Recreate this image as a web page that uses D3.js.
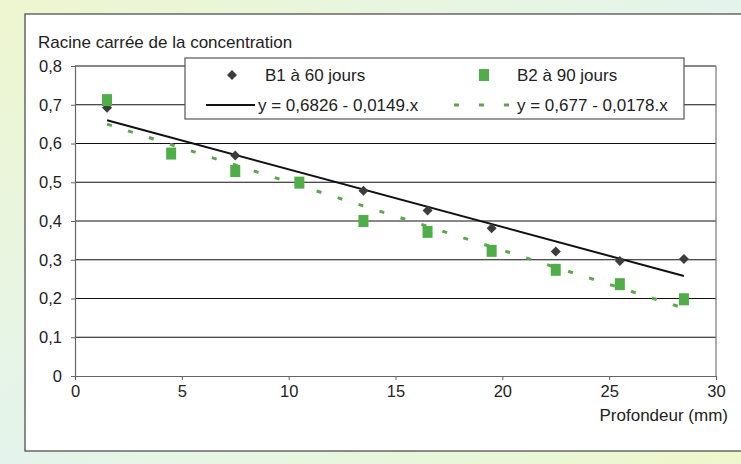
<!DOCTYPE html>
<html><head><meta charset="utf-8">
<script src="https://cdn.jsdelivr.net/npm/d3@7"></script>
<style>body{margin:0;padding:0;overflow:hidden}svg{display:block}text{font-family:"Liberation Sans",Arial,sans-serif;fill:#222}</style>
</head><body><svg id="c" width="741" height="464"></svg>
<script>
// Data
const depthB1 = [1.5, 7.5, 13.5, 16.5, 19.5, 22.5, 25.5, 28.5];
const valuesB1 = [0.692, 0.569, 0.478, 0.427, 0.381, 0.321, 0.297, 0.302];
const depthB2 = [1.5, 4.5, 7.5, 10.5, 13.5, 16.5, 19.5, 22.5, 25.5, 28.5];
const valuesB2 = [0.712, 0.574, 0.529, 0.499, 0.400, 0.372, 0.323, 0.274, 0.237, 0.198];
const trendB1X = [1.5, 28.5];
const trendB1Y = [0.660, 0.258];
const trendB2X = [1.5, 28.5];
const trendB2Y = [0.650, 0.175];
const xTicks = [0, 5, 10, 15, 20, 25, 30];
const yTicks = [0, 0.1, 0.2, 0.3, 0.4, 0.5, 0.6, 0.7, 0.8];
const legendLabels = ["B1 à 60 jours", "B2 à 90 jours", "y = 0,6826 - 0,0149.x", "y = 0,677 - 0,0178.x"];
const yTitle = "Racine carrée de la concentration";
const xTitle = "Profondeur (mm)";

const svg = d3.select("#c");
const defs = svg.append("defs");
const g1 = defs.append("linearGradient").attr("id","bg").attr("x1","0").attr("y1","0").attr("x2","1").attr("y2","1");
g1.append("stop").attr("offset","0").attr("stop-color","#eef6cf");
g1.append("stop").attr("offset","0.5").attr("stop-color","#e4f4ec");
g1.append("stop").attr("offset","1").attr("stop-color","#eef7cc");
svg.append("rect").attr("width",741).attr("height",464).attr("fill","url(#bg)");
svg.append("rect").attr("x",25).attr("y",14).attr("width",730).attr("height",437)
  .attr("fill","#fff").attr("stroke","#444").attr("stroke-width",1.2);

const x = d3.scaleLinear().domain([0,30]).range([75,716]);
const y = d3.scaleLinear().domain([0,0.8]).range([376,66]);
const fmt = d => d === 0 ? "0" : d3.format(".1f")(d).replace(".", ",");

// gridlines
svg.append("g").selectAll("line").data(yTicks.filter(d=>d>0)).join("line")
  .attr("x1",x(0)).attr("x2",x(30)).attr("y1",d=>y(d)).attr("y2",d=>y(d))
  .attr("stroke","#111").attr("stroke-width",1);
// right border
svg.append("line").attr("x1",x(30)).attr("x2",x(30)).attr("y1",y(0.8)).attr("y2",y(0))
  .attr("stroke","#777").attr("stroke-width",1.2);

const yAxis = svg.append("g").attr("transform",`translate(${x(0)},0)`)
  .call(d3.axisLeft(y).tickValues(yTicks).tickFormat(fmt).tickSize(4).tickPadding(9));
const xAxis = svg.append("g").attr("transform",`translate(0,${y(0)})`)
  .call(d3.axisBottom(x).tickValues(xTicks).tickFormat(d3.format("d")).tickSize(4).tickPadding(5));
[yAxis,xAxis].forEach(a=>{
  a.selectAll("path").attr("stroke","#666").attr("stroke-width",1.2);
  a.selectAll("line").attr("stroke","#666");
  a.selectAll("text").style("font-family","'Liberation Sans',Arial,sans-serif").style("font-size","16.5px").attr("fill","#222");
});

svg.append("text").attr("x",38).attr("y",48).style("font-size","17px").text(yTitle);
svg.append("text").attr("x",728).attr("y",421).attr("text-anchor","end").style("font-size","17px").text(xTitle);

// trend lines
const line = d3.line().x(d=>x(d[0])).y(d=>y(d[1]));
svg.append("path").datum(d3.zip(trendB1X,trendB1Y)).attr("d",line)
  .attr("fill","none").attr("stroke","#111").attr("stroke-width",2);
svg.append("path").datum(d3.zip(trendB2X,trendB2Y)).attr("d",line)
  .attr("fill","none").attr("stroke","#5aa84c").attr("stroke-width",3).attr("stroke-dasharray","5,17");

// markers
const diamond = d3.symbol().type(d3.symbolSquare).size(50);
svg.append("g").selectAll("path").data(d3.zip(depthB1,valuesB1)).join("path")
  .attr("d",diamond).attr("transform",d=>`translate(${x(d[0])},${y(d[1])}) rotate(45)`)
  .attr("fill","#3c3c3c");
svg.append("g").selectAll("rect").data(d3.zip(depthB2,valuesB2)).join("rect")
  .attr("x",d=>x(d[0])-5).attr("y",d=>y(d[1])-6).attr("width",10).attr("height",12)
  .attr("fill","#4fae48");

// legend
const lg = svg.append("g");
lg.append("rect").attr("x",185).attr("y",58).attr("width",499).attr("height",61)
  .attr("fill","#fff").attr("stroke","#555").attr("stroke-width",1.2);
lg.append("path").attr("d",diamond).attr("transform","translate(232,75) rotate(45)").attr("fill","#3c3c3c");
lg.append("rect").attr("x",479).attr("y",69).attr("width",10).attr("height",12).attr("fill","#4fae48");
lg.append("line").attr("x1",206).attr("x2",255).attr("y1",105).attr("y2",105).attr("stroke","#111").attr("stroke-width",2);
lg.append("line").attr("x1",454).attr("x2",510).attr("y1",105).attr("y2",105).attr("stroke","#5aa84c").attr("stroke-width",3).attr("stroke-dasharray","5,20");
const lt = [[265,81,legendLabels[0]],[517,81,legendLabels[1]],[258,111,legendLabels[2]],[517,111,legendLabels[3]]];
lg.selectAll("text").data(lt).join("text").attr("x",d=>d[0]).attr("y",d=>d[1])
  .style("font-size","17px").text(d=>d[2]);
</script></body></html>
